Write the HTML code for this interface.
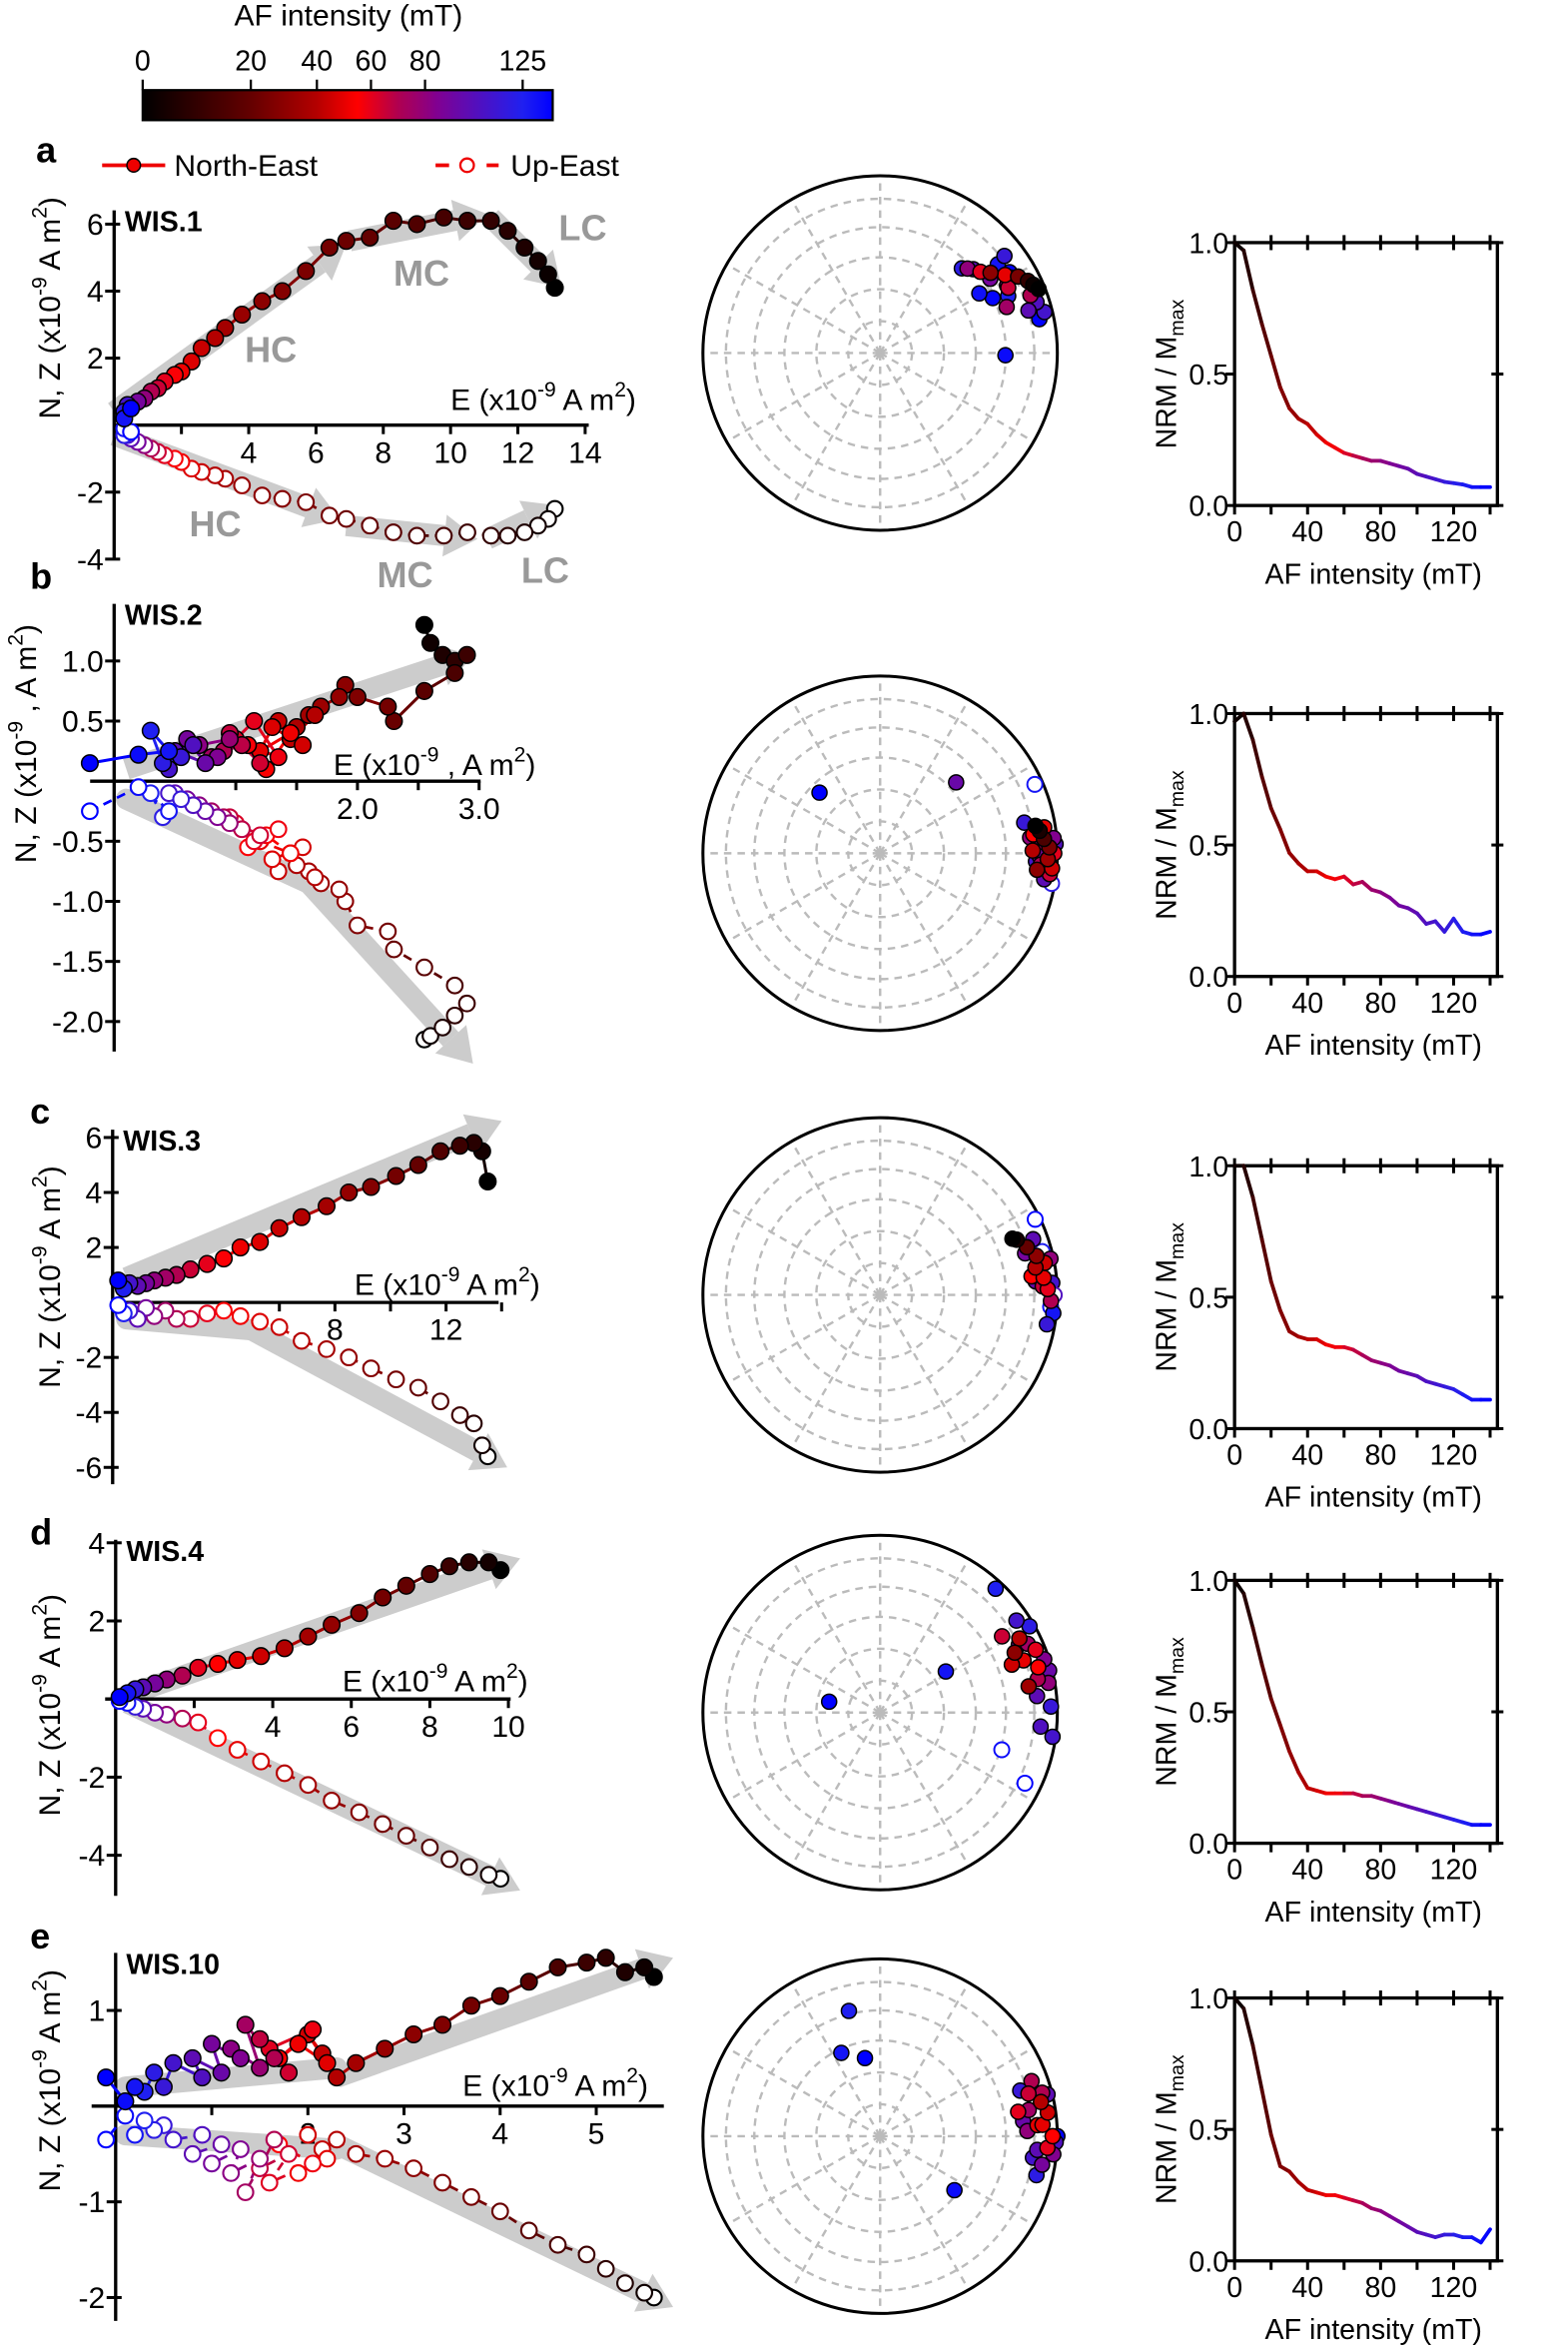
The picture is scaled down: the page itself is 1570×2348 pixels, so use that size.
<!DOCTYPE html>
<html><head><meta charset="utf-8"><title>AF demagnetization figure</title>
<style>
html,body{margin:0;padding:0;background:#fff;}
svg{display:block;font-family:"Liberation Sans",sans-serif;}
</style></head>
<body>
<svg id="fig" width="1570" height="2348" viewBox="0 0 1044 1561" preserveAspectRatio="none" xmlns="http://www.w3.org/2000/svg">
<defs><linearGradient id="cbg" x1="0" x2="1" y1="0" y2="0"></linearGradient></defs>
<g id="colorbar">
<text x="232" y="17" font-size="20" text-anchor="middle">AF intensity (mT)</text>
</g>
<g id="legend">
<line x1="68" y1="110" x2="110" y2="110" stroke="#e00" stroke-width="2.5"/>
<circle cx="89" cy="110" r="4.5" fill="#e00" stroke="#000" stroke-width="1"/>
<text x="116" y="117" font-size="20">North-East</text>
<line x1="290" y1="110" x2="332" y2="110" stroke="#e00" stroke-width="2.5" stroke-dasharray="9,8"/>
<circle cx="311" cy="110" r="4.5" fill="#fff" stroke="#e00" stroke-width="1.5"/>
<text x="340" y="117" font-size="20">Up-East</text>
</g>
<g id="plots"></g>
</svg>
<script>
// ---------- DATA ----------
const cbTickLabels = [0, 20, 40, 60, 80, 125];
const colorStopAF = [0, 20, 40, 55, 70, 85, 105, 125, 140];
const colorStopHex = ['#000000', '#640000', '#b40000', '#ff0000', '#b00050', '#820090', '#5010c0', '#2020f0', '#0000ff'];

// panel a
const aAF = [0,2,4,6,8,10,12,14,16,18,20,22,24,26,28,30,33,36,40,44,48,52,56,60,65,70,80,90,100,110,120,130,140];
const aE  = [13.1,12.9,12.6,12.2,11.7,11.2,10.5,9.8,9.0,8.3,7.6,6.9,6.4,5.7,5.0,4.4,3.8,3.3,3.0,2.6,2.3,2.0,1.8,1.5,1.3,1.1,0.9,0.7,0.5,0.4,0.3,0.3,0.5];
const aN  = [4.1,4.5,4.9,5.3,5.8,6.1,6.1,6.2,6.0,6.1,5.6,5.5,5.3,4.6,4.0,3.7,3.3,2.9,2.6,2.3,1.9,1.6,1.5,1.3,1.1,1.0,0.8,0.7,0.5,0.6,0.4,0.2,0.5];
const aU  = [-2.5,-2.8,-3.0,-3.2,-3.3,-3.3,-3.2,-3.3,-3.3,-3.2,-3.0,-2.8,-2.7,-2.3,-2.2,-2.1,-1.8,-1.6,-1.5,-1.4,-1.3,-1.1,-1.0,-0.9,-0.8,-0.7,-0.6,-0.5,-0.4,-0.3,-0.3,-0.1,-0.2];
// panel b
const bAF = [0,3,6,9,12,15,18,21,24,27,30,32,34,36,38,40,42,44,46,48,50,52,54,56,58,60,62,64,66,68,70,74,78,82,86,90,95,100,105,110,115,120,125,130,135,140];
const bE  = [2.55,2.6,2.7,2.8,2.9,2.8,2.55,2.3,2.25,2.0,1.9,1.85,1.7,1.6,1.5,1.65,1.45,1.35,1.55,1.3,1.2,1.45,1.25,1.1,1.35,1.15,1.0,1.2,0.95,1.05,0.9,0.8,0.95,0.7,0.85,0.6,0.75,0.5,0.65,0.45,0.55,0.4,0.3,0.45,0.2,-0.2];
const bN  = [1.3,1.15,1.05,1.0,1.05,0.9,0.75,0.5,0.62,0.7,0.8,0.7,0.62,0.55,0.45,0.55,0.35,0.5,0.3,0.45,0.25,0.4,0.1,0.3,0.2,0.5,0.35,0.15,0.4,0.3,0.25,0.2,0.35,0.3,0.2,0.35,0.15,0.25,0.3,0.1,0.2,0.15,0.42,0.25,0.22,0.15];
const bU  = [-2.15,-2.12,-2.05,-1.95,-1.85,-1.7,-1.55,-1.4,-1.25,-1.2,-1.0,-0.9,-0.85,-0.75,-0.7,-0.8,-0.6,-0.75,-0.55,-0.65,-0.5,-0.6,-0.45,-0.55,-0.4,-0.5,-0.35,-0.45,-0.3,-0.4,-0.3,-0.25,-0.35,-0.2,-0.3,-0.15,-0.25,-0.1,-0.2,-0.1,-0.15,-0.3,-0.1,-0.25,-0.05,-0.25];
// panel c
const cAF = [0,4,8,12,16,20,24,28,32,36,40,44,48,52,56,60,65,70,75,80,90,100,110,125,140];
const cE  = [13.5,13.3,13.0,12.5,11.8,11.0,10.2,9.3,8.5,7.7,6.8,6.0,5.3,4.6,4.0,3.4,2.8,2.3,1.9,1.5,1.2,0.9,0.6,0.4,0.2];
const cN  = [4.4,5.5,5.8,5.7,5.5,5.0,4.6,4.2,4.0,3.5,3.1,2.7,2.2,2.0,1.6,1.4,1.2,1.0,0.9,0.8,0.7,0.6,0.7,0.5,0.8];
const cU  = [-5.6,-5.2,-4.4,-4.1,-3.6,-3.1,-2.8,-2.4,-2.0,-1.7,-1.4,-0.9,-0.7,-0.5,-0.3,-0.4,-0.6,-0.6,-0.3,-0.5,-0.2,-0.6,-0.3,-0.4,-0.1];
// panel d
const dAF = [0,4,8,12,16,20,24,28,32,36,40,45,50,55,60,70,80,90,100,115,130,140];
const dE  = [9.8,9.5,9.0,8.5,8.0,7.4,6.8,6.2,5.5,4.9,4.3,3.7,3.1,2.6,2.1,1.7,1.3,1.0,0.7,0.5,0.3,0.1];
const dN  = [3.3,3.5,3.5,3.4,3.2,2.9,2.6,2.2,1.9,1.6,1.3,1.1,1.0,0.9,0.8,0.6,0.5,0.4,0.3,0.25,0.15,0.05];
const dU  = [-4.6,-4.5,-4.3,-4.1,-3.8,-3.5,-3.2,-2.9,-2.6,-2.2,-1.9,-1.6,-1.3,-1.0,-0.6,-0.5,-0.4,-0.35,-0.25,-0.2,-0.1,-0.05];
// panel e
const eAF = [0,3,6,9,12,15,18,21,24,27,30,33,36,40,43,46,49,52,55,58,61,64,67,70,74,78,82,86,90,95,100,105,110,115,120,125,130,135,140];
const eE  = [5.6,5.5,5.3,5.1,4.9,4.6,4.3,4.0,3.7,3.4,3.1,2.8,2.5,2.3,2.15,2.0,2.2,1.9,1.7,2.05,1.6,1.8,1.5,1.65,1.35,1.5,1.2,1.3,1.0,1.1,0.8,0.9,0.6,0.5,0.4,0.3,0.2,0.1,-0.1];
const eN  = [1.35,1.45,1.4,1.55,1.5,1.45,1.3,1.15,1.05,0.85,0.75,0.6,0.45,0.3,0.55,0.75,0.45,0.65,0.5,0.8,0.6,0.35,0.7,0.5,0.85,0.4,0.6,0.5,0.65,0.35,0.5,0.3,0.45,0.2,0.35,0.15,0.2,0.05,0.3];
const eU  = [-2.0,-1.95,-1.85,-1.7,-1.55,-1.45,-1.3,-1.1,-0.95,-0.8,-0.65,-0.55,-0.5,-0.35,-0.45,-0.3,-0.55,-0.7,-0.4,-0.6,-0.8,-0.5,-0.65,-0.35,-0.9,-0.55,-0.7,-0.45,-0.6,-0.4,-0.5,-0.3,-0.35,-0.2,-0.25,-0.15,-0.3,-0.1,-0.35];

// stereonet data (declination, inclination in degrees, AF step)
const sA_dec = [68,66,64,61,54,58,51,69,46,62,56,60,48,72,76,44,66,53,91,78,58,63,52,70,74,64,59];
const sA_inc = [4,6,8,12,24,18,28,10,32,20,26,16,30,8,5,34,22,18,30,9,15,20,12,25,14,30,35];
const sA_af  = [0,2,10,25,30,50,60,70,80,85,90,95,100,105,110,120,125,130,135,140,140,65,115,75,100,138,132];
const sB_dec = [80,82,85,88,92,95,83,90,97,86,84,91,99,87,93,315,47,66,100,78,88,81,94,89,85,96];
const sB_inc = [12,10,8,5,6,3,14,2,4,9,16,11,7,1,13,50,41,-5,-2,18,3,7,10,15,2,12];
const sB_af  = [0,5,15,25,35,45,55,60,65,75,80,90,100,105,110,140,95,130,120,115,125,50,70,40,85,30];
const sC_dec = [67,68,72,76,80,84,88,92,78,74,70,86,82,96,94,75,64,100,90,85,79,83,87];
const sC_inc = [20,18,14,10,12,8,6,4,2,16,9,3,11,2,-4,-6,-3,5,-2,13,6,15,9];
const sC_af  = [0,5,20,30,40,50,60,70,80,90,100,110,120,130,135,125,140,115,105,95,45,55,65];
const sD_dec = [66,62,70,74,68,58,78,80,72,64,76,84,56,60,282,58,107,116,43,88,95,98,70,65,80];
const sD_inc = [18,12,15,8,6,20,10,4,3,14,2,12,8,3,66,54,-29,-10,5,4,10,2,22,9,16];
const sD_af  = [30,40,50,55,60,65,70,80,85,90,95,100,110,120,140,130,135,140,125,115,105,110,45,75,35];
const sE_dec = [78,82,86,90,94,74,70,80,88,96,100,84,76,92,346,335,349,126,98,72,104,90,80,86,75,95];
const sE_inc = [8,5,12,3,6,14,10,16,18,2,8,20,3,1,28,47,53,47,14,18,10,0,22,9,6,12];
const sE_af  = [40,45,50,55,60,65,70,75,80,85,90,95,100,105,125,130,140,135,110,115,120,140,60,50,70,100];

// NRM decay
const nrmAF = [0,5,10,15,20,25,30,35,40,45,50,55,60,65,70,75,80,85,90,95,100,105,110,115,120,125,130,135,140];
const nrmA = [1.0,0.97,0.82,0.69,0.57,0.45,0.37,0.33,0.31,0.27,0.24,0.22,0.20,0.19,0.18,0.17,0.17,0.16,0.15,0.14,0.12,0.11,0.10,0.09,0.085,0.08,0.07,0.07,0.07];
const nrmB = [0.97,1.0,0.90,0.76,0.64,0.56,0.47,0.43,0.40,0.40,0.38,0.37,0.38,0.35,0.36,0.33,0.32,0.30,0.27,0.26,0.24,0.20,0.21,0.17,0.22,0.17,0.16,0.16,0.17];
const nrmC = [1.0,1.0,0.88,0.72,0.56,0.45,0.37,0.35,0.34,0.34,0.32,0.31,0.31,0.30,0.28,0.26,0.25,0.24,0.22,0.21,0.20,0.18,0.17,0.16,0.15,0.13,0.11,0.11,0.11];
const nrmD = [1.0,0.95,0.82,0.68,0.55,0.45,0.35,0.27,0.21,0.20,0.19,0.19,0.19,0.19,0.18,0.18,0.17,0.16,0.15,0.14,0.13,0.12,0.11,0.10,0.09,0.08,0.07,0.07,0.07];
const nrmE = [1.0,0.96,0.82,0.65,0.48,0.36,0.34,0.30,0.27,0.26,0.25,0.25,0.24,0.23,0.22,0.20,0.19,0.17,0.15,0.13,0.11,0.10,0.09,0.10,0.10,0.09,0.09,0.07,0.12];

// ---------- HELPERS ----------
const NS = 'http://www.w3.org/2000/svg';
const root = document.getElementById('plots');
function mk(tag, attrs, parent) {
  const el = document.createElementNS(NS, tag);
  for (const k in attrs) el.setAttribute(k, attrs[k]);
  (parent || root).appendChild(el);
  return el;
}
function hex2rgb(h){return [parseInt(h.slice(1,3),16),parseInt(h.slice(3,5),16),parseInt(h.slice(5,7),16)];}
function afColor(v){
  if (v <= colorStopAF[0]) return colorStopHex[0];
  for (let i=1;i<colorStopAF.length;i++){
    if (v <= colorStopAF[i]){
      const t=(v-colorStopAF[i-1])/(colorStopAF[i]-colorStopAF[i-1]);
      const a=hex2rgb(colorStopHex[i-1]), b=hex2rgb(colorStopHex[i]);
      return 'rgb('+a.map((c,j)=>Math.round(c+(b[j]-c)*t)).join(',')+')';
    }
  }
  return colorStopHex[colorStopHex.length-1];
}
const cbKnotMT = [0,20,40,60,80,125,140];
const cbKnotX = [95,167,211,247,283,348,368];
function cbX(v){
  for (let i=1;i<cbKnotMT.length;i++) if (v<=cbKnotMT[i]) return cbKnotX[i-1]+(v-cbKnotMT[i-1])/(cbKnotMT[i]-cbKnotMT[i-1])*(cbKnotX[i]-cbKnotX[i-1]);
  return cbKnotX[cbKnotX.length-1];
}

// ---------- COLORBAR ----------
(function(){
  const grad = document.getElementById('cbg');
  for (let v=0; v<=140; v+=2.5){
    const s=document.createElementNS(NS,'stop');
    s.setAttribute('offset', ((cbX(v)-95)/273).toFixed(4));
    s.setAttribute('stop-color', afColor(v));
    grad.appendChild(s);
  }
  const cb=document.getElementById('colorbar');
  const r=mk('rect',{x:95,y:60,width:273,height:20,fill:'url(#cbg)',stroke:'#000','stroke-width':1.5},cb);
  
  
  cbTickLabels.forEach(v=>{
    const x=cbX(v);
    const tk=mk('line',{x1:x,x2:x,y1:53,y2:60,stroke:'#000','stroke-width':1.5},cb);
    
    
    const t=mk('text',{x:x,y:47,'font-size':19,'text-anchor':'middle'},cb);
    t.textContent=v;
    
    
  });
})();

// ---------- ZIJDERVELD ----------
function zij(p){
  const g=mk('g',{});
  
  
  const X=v=>p.ox+v*p.sx, Y=v=>p.oy-v*p.sy;
  p.arrows.forEach(a=>{
    const x1=X(a[0]),y1=Y(a[1]),x2=X(a[2]),y2=Y(a[3]);
    if (a[4]==='nohead'){
      const ln=mk('line',{x1:x1,y1:y1,x2:x2,y2:y2,stroke:'#cccccc','stroke-width':14,'stroke-linecap':'round'},g);
      
      
      return;
    }
    const dx=x2-x1,dy=y2-y1,L=Math.hypot(dx,dy),ux=dx/L,uy=dy/L;
    const bx=x2-ux*22,by=y2-uy*22;
    const ar=mk('line',{x1:x1,y1:y1,x2:bx,y2:by,stroke:'#cccccc','stroke-width':14},g);
    
    
    const hd=mk('polygon',{points:[x2,y2,bx-uy*14,by+ux*14,bx+uy*14,by-ux*14].join(','),fill:'#cccccc'},g);
    
    
  });
  const ax=mk('line',{x1:p.xa0,x2:p.xa1,y1:p.oy,y2:p.oy,stroke:'#000','stroke-width':2.2},g);
  
  
  const ay=mk('line',{x1:p.ox,x2:p.ox,y1:p.ya0,y2:p.ya1,stroke:'#000','stroke-width':2.2},g);
  
  
  p.xt.forEach((v,i)=>{
    const t=mk('line',{x1:X(v),x2:X(v),y1:p.oy,y2:p.oy+6,stroke:'#000','stroke-width':2},g);
    
    
    if (p.xl[i]!==''){
      const l=mk('text',{x:X(v),y:p.oy+25,'font-size':20,'text-anchor':'middle'},g);
      l.textContent=p.xl[i];
      
      
    }
  });
  p.yt.forEach((v,i)=>{
    const t=mk('line',{x1:p.ox-6,x2:p.ox+4,y1:Y(v),y2:Y(v),stroke:'#000','stroke-width':2},g);
    
    
    const l=mk('text',{x:p.ox-7,y:Y(v)+7,'font-size':20,'text-anchor':'end'},g);
    l.textContent=p.yl[i];
    
    
  });
  for (let i=0;i<p.E.length-1;i++){
    const s=mk('line',{x1:X(p.E[i]),y1:Y(p.U[i]),x2:X(p.E[i+1]),y2:Y(p.U[i+1]),stroke:afColor(p.AF[i+1]),'stroke-width':1.8,'stroke-dasharray':'6,4'},g);
    
    
  }
  for (let i=0;i<p.E.length;i++){
    const c=mk('circle',{cx:X(p.E[i]),cy:Y(p.U[i]),r:5.2,fill:'#fff',stroke:afColor(p.AF[i]),'stroke-width':1.4},g);
    
    
  }
  for (let i=0;i<p.E.length-1;i++){
    const s=mk('line',{x1:X(p.E[i]),y1:Y(p.N[i]),x2:X(p.E[i+1]),y2:Y(p.N[i+1]),stroke:afColor(p.AF[i+1]),'stroke-width':2},g);
    
    
  }
  for (let i=0;i<p.E.length;i++){
    const c=mk('circle',{cx:X(p.E[i]),cy:Y(p.N[i]),r:5.5,fill:afColor(p.AF[i]),stroke:'#000','stroke-width':1},g);
    
    
  }
  const pl=mk('text',{x:p.letX,y:p.letY,'font-size':24,'font-weight':'bold'},g);
  pl.textContent=p.letter;
  
  
  const sl=mk('text',{x:p.ox+7,y:p.ya0+14,'font-size':19,'font-weight':'bold'},g);
  sl.textContent=p.name;
  
  
  const et=mk('text',{x:p.etX,y:p.etY,'font-size':20},g);
  et.innerHTML='E (x10<tspan dy="-9" font-size="14">-9</tspan><tspan dy="9">'+p.sep+' A m</tspan><tspan dy="-9" font-size="14">2</tspan><tspan dy="9">)</tspan>';
  
  
  const yt=mk('text',{x:0,y:0,'font-size':20,'text-anchor':'middle',transform:'translate('+p.ytX+','+p.ytY+') rotate(-90)'},g);
  yt.innerHTML='N, Z (x10<tspan dy="-9" font-size="14">-9</tspan><tspan dy="9">'+p.sep+' A m</tspan><tspan dy="-9" font-size="14">2</tspan><tspan dy="9">)</tspan>';
  
  
  (p.comps||[]).forEach(c=>{
    const t=mk('text',{x:c[1],y:c[2],'font-size':24,'font-weight':'bold',fill:'#999'},g);
    t.textContent=c[0];
    
    
  });
}

zij({id:'wis1',name:'WIS.1',letter:'a',letX:24,letY:108,ox:76,oy:283,sx:22.4,sy:22.3,xa0:76,xa1:392,ya0:140,ya1:373,
  xt:[2,4,6,8,10,12,14],xl:['','4','6','8','10','12','14'],yt:[6,4,2,-2,-4],yl:['6','4','2','-2','-4'],
  AF:aAF,E:aE,N:aN,U:aU,etX:300,etY:273,ytX:40,ytY:205,sep:' ',
  arrows:[[0,0.4,6.9,5.4],[7,5.5,11.1,6.3],[11.2,6.2,13.3,4.1],[0,-0.3,6.7,-2.8],[6.9,-3.0,10.8,-3.4],[11.1,-3.4,13.2,-2.4]],
  comps:[['HC',163,241],['MC',262,190],['LC',372,160],['HC',126,357],['MC',251,391],['LC',347,388]]});
zij({id:'wis2',name:'WIS.2',letter:'b',letX:20,letY:392,ox:76,oy:520,sx:81,sy:80,xa0:60,xa1:320,ya0:402,ya1:700,
  xt:[1,1.5,2,2.5,3],xl:['','','2.0','','3.0'],yt:[1,0.5,-0.5,-1,-1.5,-2],yl:['1.0','0.5','-0.5','-1.0','-1.5','-2.0'],
  AF:bAF,E:bE,N:bN,U:bU,etX:222,etY:516,ytX:24,ytY:495,sep:' ,',
  arrows:[[0.1,0.1,2.95,1.05],[0.1,-0.15,1.6,-0.85,'nohead'],[1.6,-0.85,2.95,-2.35]]});
zij({id:'wis3',name:'WIS.3',letter:'c',letX:20,letY:748,ox:75,oy:867,sx:18.5,sy:18.3,xa0:75,xa1:332,ya0:752,ya1:988,
  xt:[6,8,10,12,14],xl:['','8','','12',''],yt:[6,4,2,-2,-4,-6],yl:['6','4','2','-2','-4','-6'],
  AF:cAF,E:cE,N:cN,U:cU,etX:236,etY:862,ytX:40,ytY:850,sep:' ',
  arrows:[[0.5,0.9,14,6.6],[0.5,-0.6,5,-1.0,'nohead'],[5,-1.0,14.2,-6.0]]});
zij({id:'wis4',name:'WIS.4',letter:'d',letX:20,letY:1028,ox:77,oy:1131,sx:26.15,sy:26,xa0:70,xa1:340,ya0:1025,ya1:1262,
  xt:[2,4,6,8,10],xl:['','4','6','8','10'],yt:[4,2,-2,-4],yl:['4','2','-2','-4'],
  AF:dAF,E:dE,N:dN,U:dU,etX:228,etY:1126,ytX:40,ytY:1135,sep:' ',
  arrows:[[0.3,0.1,10.3,3.6],[0.3,-0.1,10.3,-4.9]]});
zij({id:'wis10',name:'WIS.10',letter:'e',letX:20,letY:1297,ox:77,oy:1402,sx:64,sy:63.7,xa0:61,xa1:442,ya0:1300,ya1:1545,
  xt:[1,2,3,4,5],xl:['','2','3','4','5'],yt:[1,-1,-2],yl:['1','-1','-2'],
  AF:eAF,E:eE,N:eN,U:eU,etX:308,etY:1395,ytX:40,ytY:1385,sep:' ',
  arrows:[[0.1,0.2,2.3,0.4,'nohead'],[2.3,0.3,5.8,1.55],[0.1,-0.3,2.3,-0.45,'nohead'],[2.3,-0.4,5.8,-2.1]]});

// ---------- STEREONETS ----------
function net(id,cx,cy,R,dec,inc,af){
  const g=mk('g',{});
  
  
  [0.18,0.36,0.54,0.71,0.87].forEach(f=>{
    const c=mk('circle',{cx:cx,cy:cy,r:R*f,fill:'none',stroke:'#bbb','stroke-width':1.6,'stroke-dasharray':'5,4'},g);
    
    
  });
  for (let a=0;a<360;a+=30){
    const t=a*Math.PI/180;
    const l=mk('line',{x1:cx,y1:cy,x2:cx+R*Math.sin(t),y2:cy-R*Math.cos(t),stroke:'#bbb','stroke-width':1.6,'stroke-dasharray':'5,4'},g);
    
    
  }
  const o=mk('circle',{cx:cx,cy:cy,r:R,fill:'none',stroke:'#000','stroke-width':2},g);
  
  
  const order=dec.map((d,i)=>i).sort((i,j)=>af[j]-af[i]);
  order.forEach(i=>{
    const r=R*Math.SQRT2*Math.sin((90-Math.abs(inc[i]))*Math.PI/360);
    const t=dec[i]*Math.PI/180;
    const x=cx+r*Math.sin(t), y=cy-r*Math.cos(t);
    const col=afColor(af[i]);
    const c=mk('circle',inc[i]>=0?{cx:x,cy:y,r:5,fill:col,stroke:'#000','stroke-width':1}:{cx:x,cy:y,r:5,fill:'#fff',stroke:col,'stroke-width':1.3},g);
    
    
  });
}
net('wis1',586,235,118,sA_dec,sA_inc,sA_af);
net('wis2',586,568,118,sB_dec,sB_inc,sB_af);
net('wis3',586,862,118,sC_dec,sC_inc,sC_af);
net('wis4',586,1140,118,sD_dec,sD_inc,sD_af);
net('wis10',586,1422,118,sE_dec,sE_inc,sE_af);

// ---------- NRM DECAY ----------
function nrm(id,top,vals){
  const g=mk('g',{});
  
  
  const x0=822,x1=997,h=175,maxMT=144;
  const X=v=>x0+v/maxMT*(x1-x0), Y=v=>top+h-v*h;
  const box=mk('rect',{x:x0,y:top,width:x1-x0,height:h,fill:'none',stroke:'#000','stroke-width':2.2},g);
  
  
  for (let v=0; v<=140; v+=20){
    const t1=mk('line',{x1:X(v),x2:X(v),y1:top+h,y2:top+h+6,stroke:'#000','stroke-width':2},g);
    
    
    const t2=mk('line',{x1:X(v),x2:X(v),y1:top-5,y2:top+5,stroke:'#000','stroke-width':2},g);
    
    
    if (v%40===0){
      const l=mk('text',{x:X(v),y:top+h+24,'font-size':19,'text-anchor':'middle'},g);
      l.textContent=v;
      
      
    }
  }
  [0,0.5,1].forEach(v=>{
    const t=mk('line',{x1:x0-6,x2:x0,y1:Y(v),y2:Y(v),stroke:'#000','stroke-width':2},g);
    
    
    const t2=mk('line',{x1:x1-4,x2:x1+4,y1:Y(v),y2:Y(v),stroke:'#000','stroke-width':2},g);
    
    
    const l=mk('text',{x:x0-4,y:Y(v)+7,'font-size':19,'text-anchor':'end'},g);
    l.textContent=v.toFixed(1);
    
    
  });
  for (let i=0;i<nrmAF.length-1;i++){
    const s=mk('line',{x1:X(nrmAF[i]),y1:Y(vals[i]),x2:X(nrmAF[i+1]),y2:Y(vals[i+1]),stroke:afColor((nrmAF[i]+nrmAF[i+1])/2),'stroke-width':2.5,'stroke-linecap':'round'},g);
    
    
  }
  const xt=mk('text',{x:(x0+x1)/2+5,y:top+h+52,'font-size':19,'text-anchor':'middle'},g);
  xt.textContent='AF intensity (mT)';
  
  
  const yt=mk('text',{x:0,y:0,'font-size':19,'text-anchor':'middle',transform:'translate(783,'+(top+h/2)+') rotate(-90)'},g);
  yt.innerHTML='NRM / M<tspan font-size="13" dy="5">max</tspan>';
  
  
}
nrm('wis1',161.5,nrmA);
nrm('wis2',475,nrmB);
nrm('wis3',776,nrmC);
nrm('wis4',1052,nrmD);
nrm('wis10',1330,nrmE);
</script>
</body></html>
